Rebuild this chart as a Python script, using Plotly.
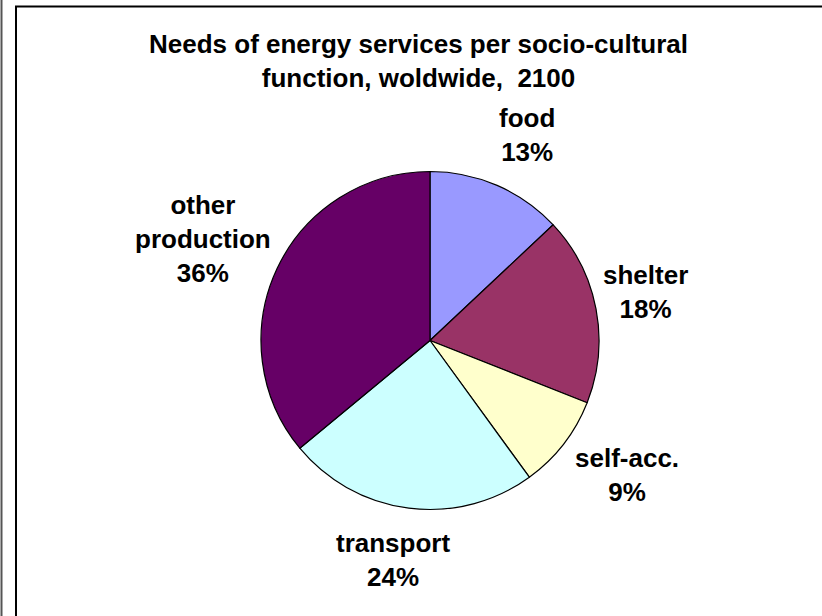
import plotly.graph_objects as go

# Shares of energy-service needs by socio-cultural function (percent)
categories = ["food", "shelter", "self-acc.", "transport", "other<br>production"]
shares = [13, 18, 9, 24, 36]
slice_colors = ["#9999FF", "#993366", "#FFFFCC", "#CCFFFF", "#660066"]

title_text = "Needs of energy services per socio-cultural<br>function, woldwide,  2100"

W, H = 822, 616
FONT = dict(family="Liberation Sans, Arial, sans-serif", size=26, color="black")

# pie placement in pixels (centre and radius)
cx, cy, r = 430, 340.5, 169

# label block centres in pixels, one per slice
label_pos = [(527, 135), (645, 292), (627, 475), (393, 560), (203, 239)]


def px(x):
    return x / W


def py(y):
    return 1 - y / H


fig = go.Figure(
    go.Pie(
        labels=[c.replace("<br>", " ") for c in categories],
        values=shares,
        sort=False,
        direction="clockwise",
        rotation=0,
        marker=dict(colors=slice_colors, line=dict(color="black", width=1.2)),
        textinfo="none",
        hoverinfo="skip",
        showlegend=False,
        domain=dict(x=[px(cx - r), px(cx + r)], y=[py(cy + r), py(cy - r)]),
    )
)

annotations = [
    dict(
        text="<b>" + title_text + "</b>",
        x=px(418), y=py(61), xref="paper", yref="paper",
        xanchor="center", yanchor="middle", showarrow=False, font=FONT,
    )
]
for name, v, (lx, ly) in zip(categories, shares, label_pos):
    annotations.append(
        dict(
            text=f"<b>{name}<br>{v}%</b>",
            x=px(lx), y=py(ly), xref="paper", yref="paper",
            xanchor="center", yanchor="middle", align="center",
            showarrow=False, font=FONT,
        )
    )

shapes = [
    # thin grey rule at the far left
    dict(type="line", xref="paper", yref="paper",
         x0=px(1.5), x1=px(1.5), y0=0, y1=1,
         line=dict(color="#555555", width=2)),
    # chart frame: left and top edges (right and bottom run off the page)
    dict(type="line", xref="paper", yref="paper",
         x0=px(16), x1=px(16), y0=py(6.5), y1=0,
         line=dict(color="black", width=2)),
    dict(type="line", xref="paper", yref="paper",
         x0=px(15), x1=1, y0=py(6.5), y1=py(6.5),
         line=dict(color="black", width=2)),
]

fig.update_layout(
    width=W, height=H,
    margin=dict(l=0, r=0, t=0, b=0),
    paper_bgcolor="white", plot_bgcolor="white",
    annotations=annotations, shapes=shapes,
    showlegend=False,
)

fig.write_html("out.html", config=dict(displayModeBar=False))
